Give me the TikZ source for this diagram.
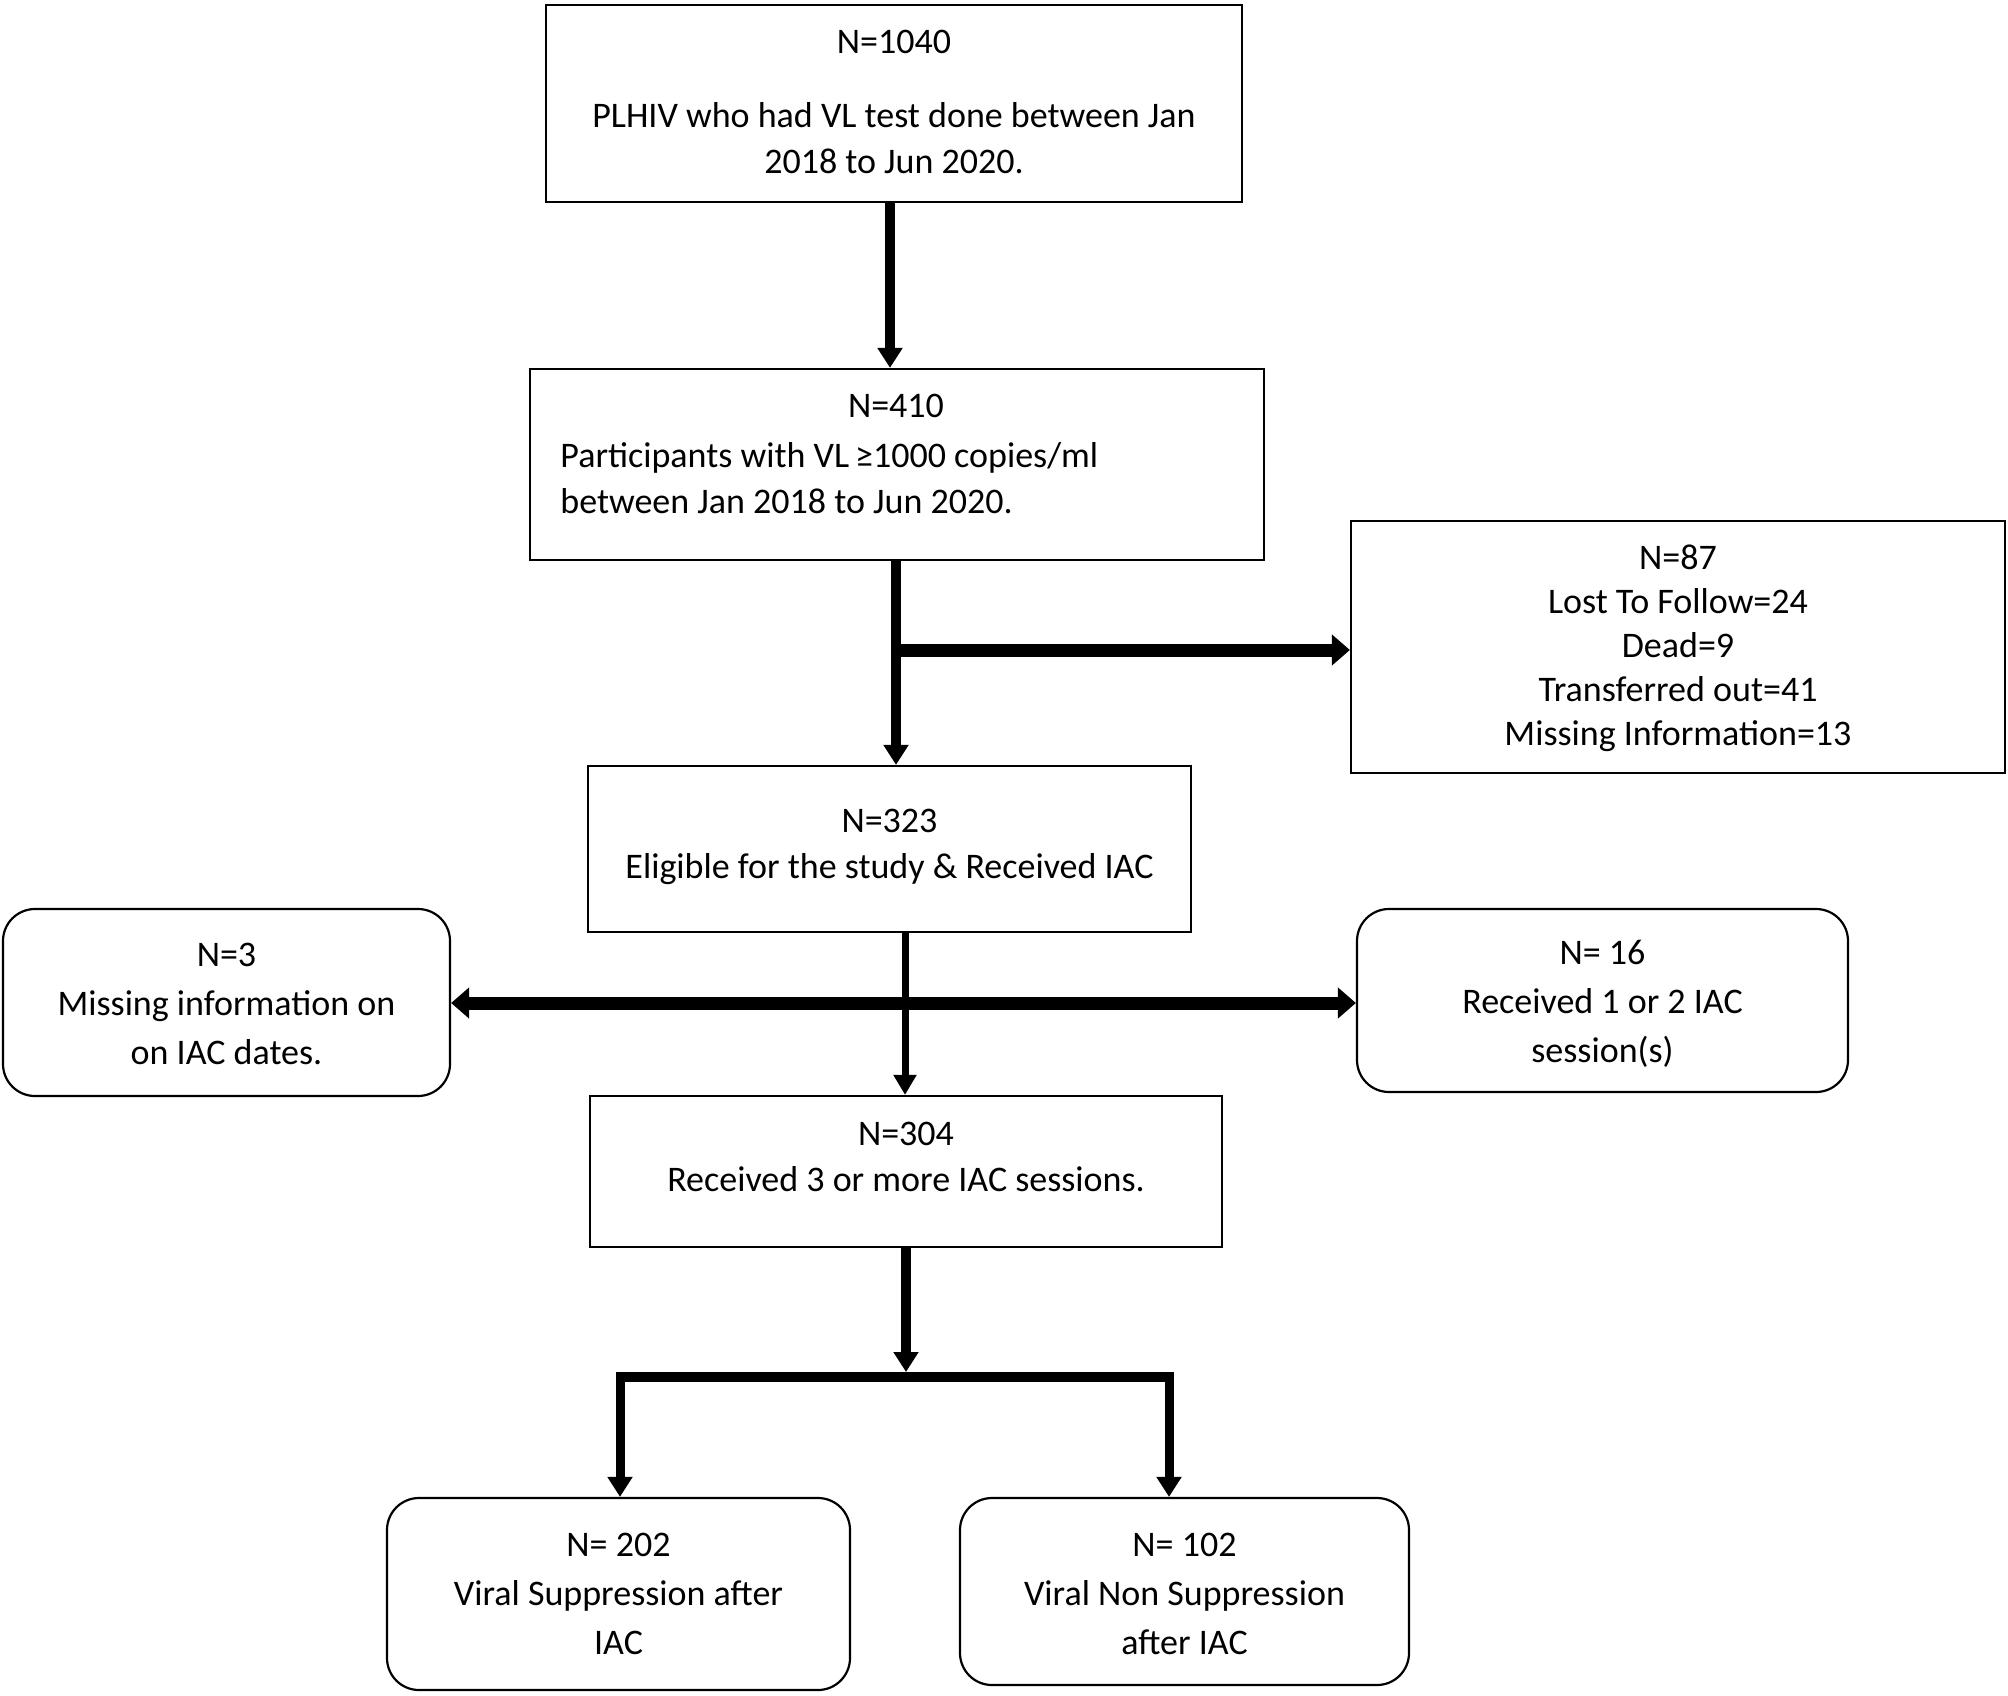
\documentclass[tikz,border=0pt]{standalone}
\usepackage{fontspec}
\setmainfont{Carlito}
\usetikzlibrary{arrows.meta}
\begin{document}
\begin{tikzpicture}[x=0.5pt,y=-0.5pt,
  box/.style={draw=black, line width=1.1pt, fill=white, inner sep=0pt},
  rbox/.style={box, rounded corners=16pt},
  txt/.style={font=\fontsize{18}{23}\selectfont, align=center, inner sep=0pt},
  arr/.style={line width=5pt, -{Triangle[length=10pt,width=12pt]}},
  harr/.style={line width=6.5pt, -{Triangle[length=9pt,width=15pt]}},
  dharr/.style={line width=6.5pt, {Triangle[length=9pt,width=15pt]}-{Triangle[length=9pt,width=15pt]}},
  lnk/.style={line width=5pt},
]
\useasboundingbox (0,0) rectangle (2008,1696);
% boxes
\node[box, minimum width=348pt, minimum height=98.5pt] (top) at (894,103.5) {};
\node[box, minimum width=367pt, minimum height=95.5pt] (n410) at (897,464.5) {};
\node[box, minimum width=327pt, minimum height=126pt] (n87) at (1678,647) {};
\node[box, minimum width=301.5pt, minimum height=83pt] (n323) at (889.5,849) {};
\node[rbox, minimum width=223.5pt, minimum height=93.5pt] (n3) at (226.5,1002.5) {};
\node[rbox, minimum width=245.5pt, minimum height=91.5pt] (n16) at (1602.5,1000.5) {};
\node[box, minimum width=316pt, minimum height=75.5pt] (n304) at (906,1171.5) {};
\node[rbox, minimum width=231.5pt, minimum height=96pt] (n202) at (618.5,1594) {};
\node[rbox, minimum width=224.5pt, minimum height=93.5pt] (n102) at (1184.5,1591.5) {};
% texts
\node[txt] (t1a) at (894,42) {N=1040};
\node[txt] (t1b) at (894,138.5) {PLHIV who had VL test done between Jan\\2018 to Jun 2020.};
\node[txt] (t2a) at (896,406) {N=410};
\node[txt, align=left, anchor=west] (t2b) at (560,478.5) {Participants with VL\,≥1000 copies/ml\\between Jan 2018 to Jun 2020.};
\node[txt, font=\fontsize{18}{22}\selectfont] (t3) at (1678,648) {N=87\\Lost To Follow=24\\Dead=9\\Transferred out=41\\Missing Information=13};
\node[txt] (t4) at (889.5,846.5) {N=323\\Eligible for the study \& Received IAC};
\node[txt, font=\fontsize{18}{24.5}\selectfont] (t5) at (226.5,1004) {N=3\\Missing information on\\on IAC dates.};
\node[txt, font=\fontsize{18}{24.5}\selectfont] (t6) at (1602.5,1004) {N= 16\\Received 1 or 2 IAC\\session(s)};
\node[txt] (t7) at (906,1157) {N=304\\Received 3 or more IAC sessions.};
\node[txt, font=\fontsize{18}{24.5}\selectfont] (t8) at (618.5,1594) {N= 202\\Viral Suppression after\\IAC};
\node[txt, font=\fontsize{18}{24.5}\selectfont] (t9) at (1184.5,1594) {N= 102\\Viral Non Suppression\\after IAC};
% connectors
\coordinate (c1) at (890,0);
\draw[arr] (top.south -| c1) -- (n410.north -| c1);
\coordinate (c2) at (896,0);
\draw[arr] (n410.south -| c2) -- (n323.north -| c2);
\coordinate (j1) at (900,650);
\draw[harr] (j1) -- (j1 -| n87.west);
\coordinate (c3) at (905,0);
\draw[line width=3.5pt, -{Triangle[length=10pt,width=11pt]}] (n323.south -| c3) -- (n304.north -| c3);
\coordinate (j2) at (0,1003);
\draw[dharr] (j2 -| n3.east) -- (j2 -| n16.west);
\coordinate (jm) at (906,1372);
\draw[arr] (n304.south -| jm) -- (jm);
\coordinate (jl) at (620,1377);
\coordinate (jr) at (1169,1377);
\draw[lnk] ([xshift=-2pt]jl) -- ([xshift=2pt]jr);
\draw[line width=4.5pt, -{Triangle[length=10pt,width=12pt]}] ([yshift=2.5pt]jl) -- (jl |- n202.north);
\draw[line width=4.5pt, -{Triangle[length=10pt,width=12pt]}] ([yshift=2.5pt]jr) -- (jr |- n102.north);
\end{tikzpicture}
\end{document}
